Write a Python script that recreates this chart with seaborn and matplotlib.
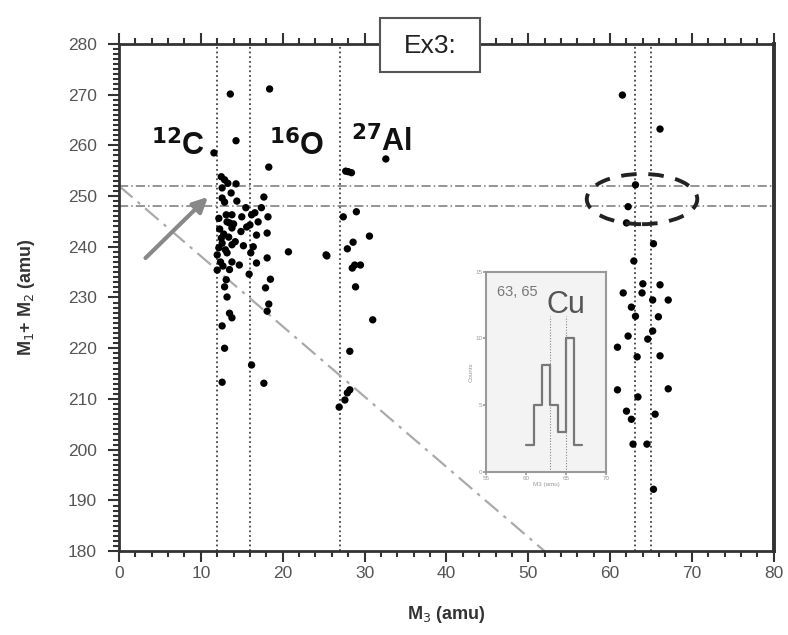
import matplotlib
matplotlib.use("Agg")
import matplotlib.pyplot as plt
from matplotlib.patches import Ellipse, Rectangle
from matplotlib.ticker import MultipleLocator
import numpy as np
import pandas as pd
import seaborn as sns

# scatter data (M3, M1+M2)
light_x = [13.6, 18.4, 14.3, 11.6, 18.3, 12.5, 12.9, 14.3, 12.6, 13.7, 12.6, 12.9, 17.7,
           15.5, 17.4, 13.1, 13.8, 15.0, 16.2, 16.6, 18.2, 13.2, 15.6, 13.5, 13.8, 16.8,
           18.1, 12.5, 12.6, 13.8, 12.0, 13.2, 16.1, 16.8, 18.1, 20.7, 25.3, 13.8, 14.7,
           12.0, 15.9, 13.1, 12.9, 18.5, 17.9, 13.2, 18.3, 18.1, 13.5, 13.8, 12.6, 12.9,
           16.2, 12.6, 17.7, 12.3, 12.8, 13.4, 12.2, 13.0, 14.2, 12.4, 13.5, 14.9, 16.4,
           12.2, 14.4, 13.3, 16.0, 17.0, 14.0, 15.2, 12.7]
light_y = [270.1, 271.1, 260.9, 258.5, 255.7, 253.8, 253.2, 252.4, 251.6, 250.6, 249.6, 248.8, 249.8,
           247.7, 247.7, 246.3, 246.3, 245.9, 246.3, 246.7, 245.9, 244.9, 243.9, 244.7, 243.7, 242.3,
           242.7, 241.7, 240.7, 240.4, 238.4, 238.8, 238.8, 236.8, 237.8, 239.0, 238.4, 237.0, 236.4,
           235.4, 234.6, 233.5, 232.1, 233.6, 231.9, 230.1, 228.7, 227.3, 226.9, 226.0, 224.4, 220.0,
           216.7, 213.3, 213.1, 243.5, 242.5, 241.9, 239.8, 239.4, 241.0, 237.0, 235.5, 243.0, 240.0,
           245.6, 249.0, 252.5, 244.3, 244.9, 244.5, 240.2, 236.2]
al_x = [32.6, 27.7, 28.0, 28.4, 29.0, 27.4, 30.6, 28.6, 27.9, 25.4, 28.8, 29.5, 28.5, 28.9,
        31.0, 28.2, 28.2, 27.9, 27.6, 26.9]
al_y = [257.3, 254.9, 254.8, 254.6, 246.9, 245.9, 242.1, 240.9, 239.6, 238.2, 236.4, 236.4, 235.8, 232.1,
        225.6, 219.4, 211.8, 211.2, 209.8, 208.4]
cu_x = [61.5, 66.1, 63.1, 62.2, 62.0, 65.3, 62.9, 64.0, 66.1, 61.6, 63.9, 65.2, 67.1, 62.6, 63.1,
        65.9, 65.2, 62.2, 64.6, 60.9, 63.3, 66.1, 60.9, 67.1, 63.4, 62.0, 62.6, 65.5, 62.8, 64.5, 65.3]
cu_y = [269.9, 263.2, 252.2, 247.9, 244.7, 240.6, 237.2, 232.7, 232.5, 230.9, 230.9, 229.5, 229.5, 228.1, 226.3,
        226.2, 223.4, 222.4, 221.8, 220.2, 218.3, 218.5, 211.8, 212.0, 210.4, 207.6, 206.0, 207.0, 201.1, 201.1, 192.2]

mass_lines = [12, 16, 27, 63, 65]
sum_lines = [252, 248]
diag_x = [0, 52]
diag_y = [252, 180]

# inset histogram of Cu masses
hist_edges = [60, 61, 62, 63, 64, 65, 66, 67]
hist_counts = [2, 5, 8, 5, 3, 10, 2]

df = pd.DataFrame({"m3": light_x + al_x + cu_x, "m12": light_y + al_y + cu_y})

sns.set_theme(style="ticks")
plt.rcParams["font.family"] = ["Liberation Sans", "DejaVu Sans"]

fig = plt.figure(figsize=(7.88, 6.35), dpi=100)
ax = fig.add_axes([0.151, 0.132, 0.831, 0.799])

for x in mass_lines:
    ax.axvline(x, color="#444444", lw=1.3, ls=(0, (1, 1.6)), zorder=1)
for y in sum_lines:
    ax.axhline(y, color="#777777", lw=1.1, ls=(0, (6, 2, 1, 2)), zorder=1)
ax.plot(diag_x, diag_y, color="#aaaaaa", lw=1.6, ls=(0, (8, 3, 1.5, 3)), zorder=1)

sns.scatterplot(data=df, x="m3", y="m12", ax=ax, color="black", s=28,
                edgecolor="none", legend=False, zorder=3)

ax.add_patch(Ellipse((63.9, 249.4), 13.5, 9.9, fill=False, ec="#222222",
                     lw=2.8, ls=(0, (4, 3)), zorder=4))
ax.annotate("", xy=(11.1, 250.2), xytext=(3.0, 237.4),
            arrowprops=dict(arrowstyle="-|>", color="#888888", lw=3,
                            mutation_scale=22), zorder=4)

lab_kw = dict(fontsize=22, color="#111111", fontweight="bold", va="baseline")
ax.text(3.85, 258.1, r"$^{\mathbf{12}}$C", **lab_kw)
ax.text(18.3, 258.1, r"$^{\mathbf{16}}$O", **lab_kw)
ax.text(28.4, 258.8, r"$^{\mathbf{27}}$Al", **lab_kw)

ax.set_xlim(0, 80)
ax.set_ylim(180, 280)
ax.xaxis.set_major_locator(MultipleLocator(10))
ax.xaxis.set_minor_locator(MultipleLocator(2))
ax.yaxis.set_major_locator(MultipleLocator(10))
ax.yaxis.set_minor_locator(MultipleLocator(1))
ax.tick_params(which="both", direction="out", top=True, right=False,
               colors="#333333", labelcolor="#555555", labelsize=12.5, width=1.5)
ax.tick_params(which="major", length=8, pad=3)
ax.tick_params(axis="y", which="major", pad=8)
ax.tick_params(which="minor", length=4)
for side in ["left", "bottom", "top", "right"]:
    ax.spines[side].set_visible(True)
    ax.spines[side].set_color("#333333")
    ax.spines[side].set_linewidth(2)
ax.spines["right"].set_linewidth(2.8)

ax.set_xlabel(r"M$_3$ (amu)", fontsize=13, fontweight="bold", color="#333333", labelpad=16)
ax.set_ylabel(r"M$_1$+ M$_2$ (amu)", fontsize=13, fontweight="bold", color="#333333", labelpad=22)

# "Ex3:" box sitting over the top spine
fig.add_artist(Rectangle((380 / 788, 1 - 72 / 635), 100 / 788, 54 / 635,
                         transform=fig.transFigure, fc="white", ec="#555555",
                         lw=1.5, zorder=10))
fig.text(430 / 788, 1 - 46 / 635, "Ex3:", fontsize=19, color="#222222",
         ha="center", va="center", zorder=11)

# inset histogram
ins = fig.add_axes([0.617, 0.257, 0.152, 0.315])
ins.set_facecolor("#f3f3f3")
centers = [(a + b) / 2 for a, b in zip(hist_edges[:-1], hist_edges[1:])]
sns.histplot(x=centers, weights=hist_counts, bins=hist_edges, element="step",
             fill=False, color="#777777", lw=1.6, ax=ins)
for x in [63, 65]:
    ins.plot([x, x], [0, 11.7], color="#888888", lw=0.8, ls=(0, (1, 1.5)))
ins.text(56.4, 13.2, "63, 65", fontsize=10.5, color="#777777", va="baseline")
ins.text(62.6, 11.9, "Cu", fontsize=22, color="#555555", va="baseline")
ins.set_xlim(55, 70)
ins.set_ylim(0, 15)
ins.set_xticks([55, 60, 65, 70])
ins.set_yticks([0, 5, 10, 15])
ins.tick_params(labelsize=4.5, length=2, colors="#999999", labelcolor="#999999", pad=1)
ins.set_xlabel(r"M3 (amu)", fontsize=4.5, color="#999999", labelpad=1)
ins.set_ylabel("Counts", fontsize=4.5, color="#999999", labelpad=1)
for s in ins.spines.values():
    s.set_color("#999999")
    s.set_linewidth(1.5)

fig.savefig("out.png", dpi=100)
